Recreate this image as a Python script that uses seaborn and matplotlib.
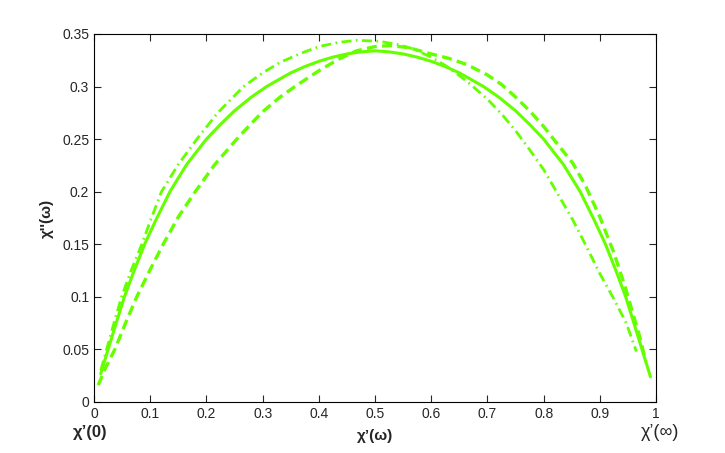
import matplotlib
matplotlib.use("Agg")
import matplotlib.pyplot as plt
import seaborn as sns

# curves (chi' on x, chi'' on y)
solid_x = [0.012, 0.025, 0.04, 0.054, 0.07, 0.09, 0.11, 0.135, 0.165, 0.20, 0.225, 0.25,
           0.28, 0.307, 0.33, 0.35, 0.375, 0.40, 0.425, 0.45, 0.475, 0.50, 0.525, 0.55,
           0.575, 0.60, 0.625, 0.65, 0.67, 0.693, 0.72, 0.75, 0.775, 0.80, 0.835, 0.865,
           0.89, 0.91, 0.93, 0.946, 0.96, 0.975, 0.99]
solid_y = [0.027, 0.05, 0.076, 0.10, 0.123, 0.15, 0.173, 0.20, 0.226, 0.25, 0.264, 0.277,
           0.29, 0.30, 0.307, 0.313, 0.319, 0.324, 0.328, 0.331, 0.333, 0.334, 0.333, 0.331,
           0.328, 0.324, 0.319, 0.313, 0.307, 0.30, 0.29, 0.277, 0.264, 0.25, 0.226, 0.20,
           0.173, 0.15, 0.123, 0.10, 0.076, 0.05, 0.024]

dash_x = [0.0074, 0.02, 0.037, 0.056, 0.076, 0.10, 0.123, 0.15, 0.18, 0.215, 0.254, 0.28,
          0.30, 0.331, 0.36, 0.40, 0.435, 0.467, 0.50, 0.526, 0.56, 0.60, 0.63, 0.663,
          0.70, 0.725, 0.75, 0.775, 0.80, 0.825, 0.852, 0.875, 0.90, 0.925, 0.947, 0.96,
          0.971, 0.982]
dash_y = [0.016, 0.032, 0.05, 0.075, 0.10, 0.126, 0.15, 0.176, 0.20, 0.226, 0.25, 0.265,
          0.276, 0.290, 0.301, 0.315, 0.326, 0.334, 0.338, 0.339, 0.337, 0.331, 0.327, 0.321,
          0.311, 0.302, 0.29, 0.277, 0.262, 0.245, 0.227, 0.205, 0.176, 0.142, 0.106, 0.082,
          0.062, 0.038]

dd_x = [0.012, 0.025, 0.037, 0.049, 0.066, 0.085, 0.10, 0.12, 0.15, 0.183, 0.22, 0.266,
        0.30, 0.331, 0.37, 0.40, 0.435, 0.467, 0.508, 0.54, 0.567, 0.60, 0.625, 0.644,
        0.67, 0.70, 0.725, 0.75, 0.775, 0.80, 0.825, 0.852, 0.875, 0.90, 0.925, 0.947,
        0.965]
dd_y = [0.03, 0.055, 0.078, 0.10, 0.125, 0.15, 0.172, 0.20, 0.226, 0.25, 0.275, 0.30,
        0.313, 0.323, 0.332, 0.338, 0.342, 0.344, 0.343, 0.340, 0.336, 0.328, 0.320, 0.313,
        0.302, 0.288, 0.274, 0.258, 0.24, 0.221, 0.198, 0.173, 0.149, 0.122, 0.098, 0.075,
        0.048]

xticks = [0, 0.1, 0.2, 0.3, 0.4, 0.5, 0.6, 0.7, 0.8, 0.9, 1]
yticks = [0, 0.05, 0.1, 0.15, 0.2, 0.25, 0.3, 0.35]

green = "#66ff00"

sns.set_style("ticks")
plt.rcParams['font.family'] = ['Liberation Sans', 'DejaVu Sans']

fig = plt.figure(figsize=(7.25, 4.53), dpi=100)
ax = fig.add_axes([0.1297, 0.1126, 0.7752, 0.8124])

sns.lineplot(x=solid_x, y=solid_y, ax=ax, color=green, lw=2.2, sort=False)
sns.lineplot(x=dash_x, y=dash_y, ax=ax, color=green, lw=2.4, linestyle=(0, (3.0, 1.6)), sort=False)
sns.lineplot(x=dd_x, y=dd_y, ax=ax, color=green, lw=2.0, linestyle=(0, (3.6, 1.6, 0.6, 1.6)), sort=False)

ax.set_xlim(0, 1)
ax.set_ylim(0, 0.35)
ax.set_xticks(xticks)
ax.set_xticklabels([f"{t:g}" for t in xticks])
ax.set_yticks(yticks)
ax.set_yticklabels([f"{t:g}" for t in yticks])
ax.tick_params(direction='in', top=True, right=True, length=5, width=0.8, labelsize=10)
for s in ax.spines.values():
    s.set_linewidth(0.8)
    s.set_color('black')

ax.set_xlabel("χ’(ω)", fontsize=11, fontweight='bold', labelpad=6)
ax.set_ylabel("χ''(ω)", fontsize=11, fontweight='bold', labelpad=6)
ax.text(-0.007, -0.029, "χ’(0)", fontsize=12, fontweight='bold', ha='center', va='center',
        clip_on=False)
ax.text(1.007, -0.029, "χ’(∞)", fontsize=13, ha='center', va='center', clip_on=False)

fig.savefig("out.png", dpi=100)
